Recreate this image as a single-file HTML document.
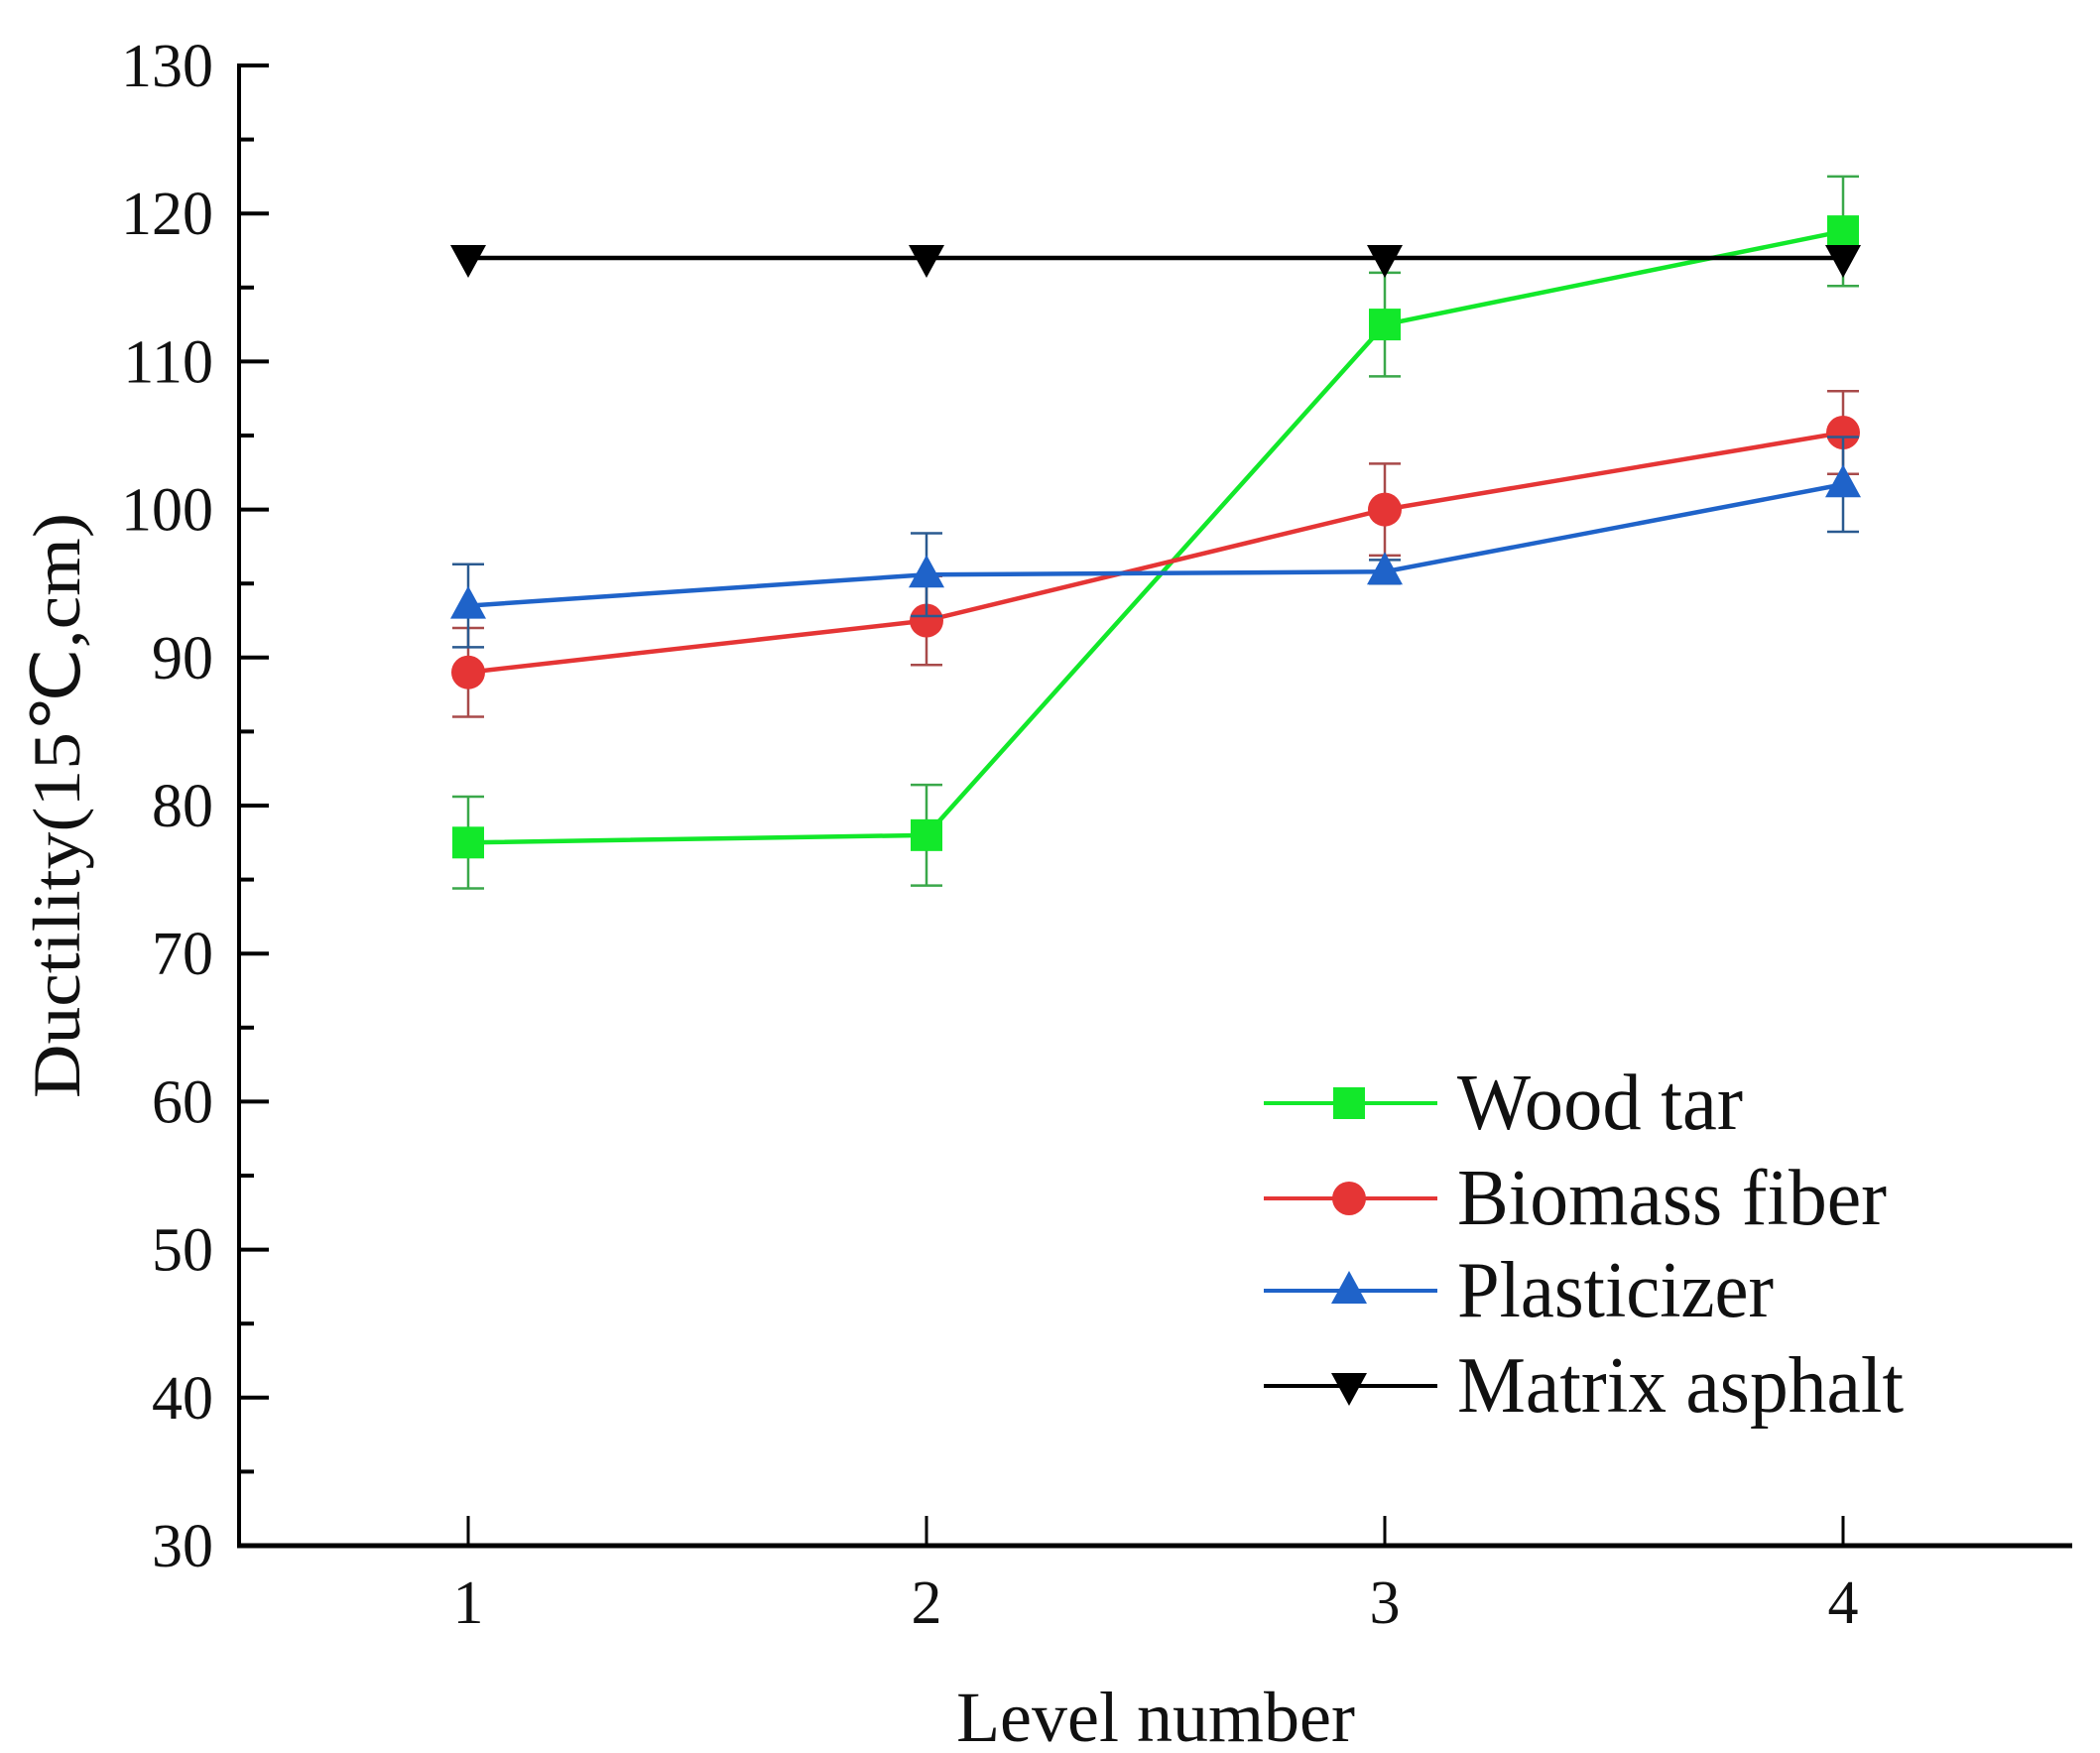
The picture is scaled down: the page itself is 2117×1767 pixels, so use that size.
<!DOCTYPE html>
<html><head><meta charset="utf-8"><title>Ductility chart</title>
<style>
html,body{margin:0;padding:0;background:#fff;}
svg{display:block;font-family:"Liberation Serif",serif;}
</style></head>
<body>
<svg id="chart" width="2117" height="1767" viewBox="0 0 2117 1767" xmlns="http://www.w3.org/2000/svg">
<rect width="2117" height="1767" fill="#fff"/>
<g id="plot"></g>
</svg>
<script>
const categories = [1, 2, 3, 4];
const yTicks = [30, 40, 50, 60, 70, 80, 90, 100, 110, 120, 130];
const woodTar = [77.5, 78, 112.5, 118.8];
const woodTarErr = [3.1, 3.4, 3.5, 3.7];
const biomassFiber = [89, 92.5, 100, 105.2];
const biomassFiberErr = [3, 3, 3.1, 2.8];
const plasticizer = [93.5, 95.6, 95.8, 101.7];
const plasticizerErr = [2.8, 2.8, 0.8, 3.2];
const matrixAsphalt = [117, 117, 117, 117];
const seriesNames = ["Wood tar", "Biomass fiber", "Plasticizer", "Matrix asphalt"];

const NS = "http://www.w3.org/2000/svg";
const L = 241, R = 2089, T = 66, B = 1558;
const xMin = 0.5, xMax = 4.5, yMin = 30, yMax = 130;
function xs(v){ return L + (v - xMin) / (xMax - xMin) * (R - L); }
function ys(v){ return B - (v - yMin) / (yMax - yMin) * (B - T); }
const g = document.getElementById('plot');
function mk(tag, attrs, parent){
  const e = document.createElementNS(NS, tag);
  for (const k in attrs) e.setAttribute(k, attrs[k]);
  (parent || g).appendChild(e);
  return e;
}

let e;
e = mk('line', {x1:L, y1:T-2, x2:L, y2:B+2, stroke:'#000', 'stroke-width':4});


e = mk('line', {x1:L-2, y1:B, x2:R, y2:B, stroke:'#000', 'stroke-width':5});



yTicks.forEach((t, i) => {
  const y = ys(t);
  const tk = mk('line', {x1:L, y1:y, x2:L+30, y2:y, stroke:'#000', 'stroke-width':4});
  
  
  const tx = mk('text', {x:L-26, y:y+21, 'text-anchor':'end', 'font-size':62, fill:'#111'});
  tx.textContent = t;
  
  
  if (i < yTicks.length - 1) {
    const ym = ys(t + 5);
    const mn = mk('line', {x1:L, y1:ym, x2:L+15, y2:ym, stroke:'#000', 'stroke-width':4});
    
    
  }
});
categories.forEach(c => {
  const x = xs(c);
  const tk = mk('line', {x1:x, y1:B, x2:x, y2:B-30, stroke:'#000', 'stroke-width':3});
  
  
  const tx = mk('text', {x:x, y:B+78, 'text-anchor':'middle', 'font-size':62, fill:'#111'});
  tx.textContent = c;
  
  
});

e = mk('text', {x:1165, y:1755, 'text-anchor':'middle', 'font-size':72, fill:'#111'});
e.textContent = 'Level number';


e = mk('text', {x:0, y:0, 'text-anchor':'middle', 'font-size':68, fill:'#111', transform:'translate(80,812) rotate(-90)', textLength:590, lengthAdjust:'spacingAndGlyphs'});
e.textContent = 'Ductility(15℃,cm)';



function marker(type, x, y, color, parent){
  let m;
  if (type === 'square') m = mk('rect', {x:x-16, y:y-16, width:32, height:32, fill:color}, parent);
  else if (type === 'circle') m = mk('circle', {cx:x, cy:y, r:17, fill:color}, parent);
  else if (type === 'up') m = mk('polygon', {points:`${x},${y-20} ${x-18},${y+13} ${x+18},${y+13}`, fill:color}, parent);
  else m = mk('polygon', {points:`${x-18},${y-13} ${x+18},${y-13} ${x},${y+20}`, fill:color}, parent);
  return m;
}

const series = [
  {name:'wood-tar', vals:woodTar, err:woodTarErr, color:'#12e82a', errColor:'#3aa84a', m:'square'},
  {name:'biomass-fiber', vals:biomassFiber, err:biomassFiberErr, color:'#e53535', errColor:'#a84a4a', m:'circle'},
  {name:'plasticizer', vals:plasticizer, err:plasticizerErr, color:'#1f63c9', errColor:'#2a5a90', m:'up'},
  {name:'matrix-asphalt', vals:matrixAsphalt, err:null, color:'#000', errColor:'#000', m:'down'}
];

series.forEach(s => {
  const sg = mk('g', {});
  
  
  if (s.err) {
    s.vals.forEach((v, i) => {
      const x = xs(categories[i]), y1 = ys(v + s.err[i]), y2 = ys(v - s.err[i]);
      const eb = mk('path', {d:`M${x},${y1}V${y2}M${x-16},${y1}H${x+16}M${x-16},${y2}H${x+16}`, stroke:s.errColor, 'stroke-width':2.5, fill:'none'}, sg);
      
      
    });
  }
  const pts = s.vals.map((v, i) => xs(categories[i]) + ',' + ys(v)).join(' ');
  const pl = mk('polyline', {points:pts, stroke:s.color, 'stroke-width':4.5, fill:'none'}, sg);
  
  
  s.vals.forEach((v, i) => {
    const m = marker(s.m, xs(categories[i]), ys(v), s.color, sg);
    
    
  });
});

const legRows = [1112, 1208, 1301, 1397];
const lg = mk('g', {});


const legLen = [288, 433, 319, 450];
series.forEach((s, i) => {
  const y = legRows[i];
  const ln = mk('line', {x1:1274, y1:y, x2:1449, y2:y, stroke:s.color, 'stroke-width':4}, lg);
  
  
  const m = marker(s.m, 1360, y, s.color, lg);
  
  
  const t = mk('text', {x:1469, y:y+26, 'font-size':80, fill:'#111', textLength:legLen[i], lengthAdjust:'spacingAndGlyphs'}, lg);
  t.textContent = seriesNames[i];
  
  
});
</script>
</body></html>
